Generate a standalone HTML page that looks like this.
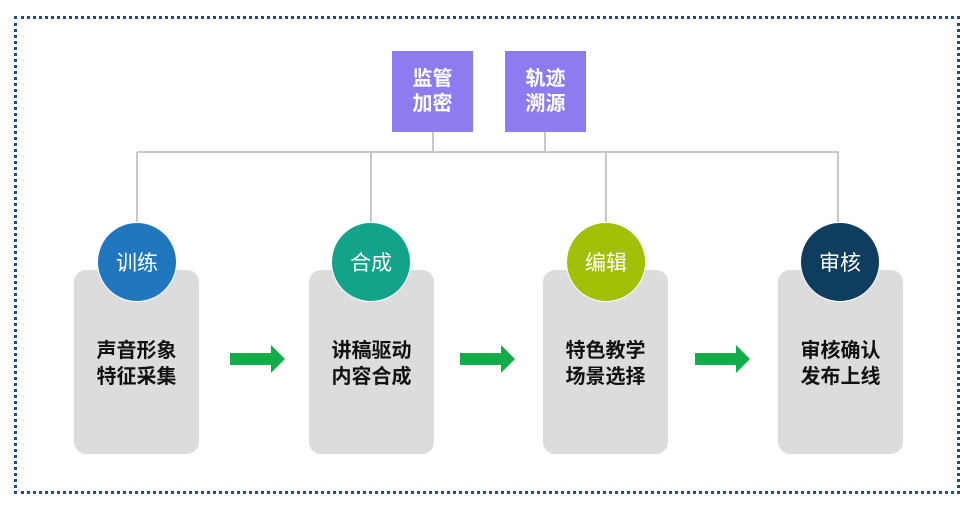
<!DOCTYPE html>
<html><head><meta charset="utf-8"><style>
body{margin:0;width:973px;height:507px;background:#fff;position:relative;overflow:hidden;font-family:"Liberation Sans","Noto Sans CJK SC",sans-serif}
.a{position:absolute}
.border{left:14px;top:16px;width:940px;height:472px;border:3px dotted #1f4e79}
.p{background:#8c7cf0;color:#fff;font-weight:bold;font-size:20px;line-height:25px;width:81px;height:81px;display:flex;align-items:center;justify-content:center;text-align:center}
.l{background:#c8c8c8}
.box{background:#dcdcdc;border-radius:12px;width:125px;height:184px;top:270px}
.box div{position:absolute;top:68px;width:100%;text-align:center;font-weight:bold;font-size:20px;line-height:26px;color:#111}
.c{width:80px;height:80px;border-radius:50%;top:222px;color:#fff;font-size:21px;display:flex;align-items:center;justify-content:center;border:1px solid #fff;box-sizing:border-box}
</style></head><body>
<div class="a border"></div>
<div class="a l" style="left:137px;top:151px;width:702px;height:2px"></div>
<div class="a l" style="left:432px;top:132px;width:2px;height:20px"></div>
<div class="a l" style="left:544px;top:132px;width:2px;height:20px"></div>
<div class="a l" style="left:136px;top:152px;width:2px;height:70px"></div>
<div class="a l" style="left:370px;top:152px;width:2px;height:70px"></div>
<div class="a l" style="left:605px;top:152px;width:2px;height:70px"></div>
<div class="a l" style="left:837px;top:152px;width:2px;height:70px"></div>
<div class="a p" style="left:392px;top:51px">监管<br>加密</div>
<div class="a p" style="left:505px;top:51px">轨迹<br>溯源</div>
<div class="a box" style="left:74px"><div>声音形象<br>特征采集</div></div>
<div class="a box" style="left:309px"><div>讲稿驱动<br>内容合成</div></div>
<div class="a box" style="left:543px"><div>特色教学<br>场景选择</div></div>
<div class="a box" style="left:778px"><div>审核确认<br>发布上线</div></div>
<div class="a c" style="left:97px;background:#2177bd">训练</div>
<div class="a c" style="left:331px;background:#12a38a">合成</div>
<div class="a c" style="left:566px;background:#a3bf08">编辑</div>
<div class="a c" style="left:800px;background:#0f3d5e">审核</div>
<svg class="a" style="left:0;top:0" width="973" height="507">
<g fill="#13ac4b">
<polygon points="230,353 271,353 271,345 285,359 271,373 271,365 230,365"/>
<polygon points="460,353 501,353 501,345 515,359 501,373 501,365 460,365"/>
<polygon points="695,353 736,353 736,345 750,359 736,373 736,365 695,365"/>
</g></svg>
</body></html>
